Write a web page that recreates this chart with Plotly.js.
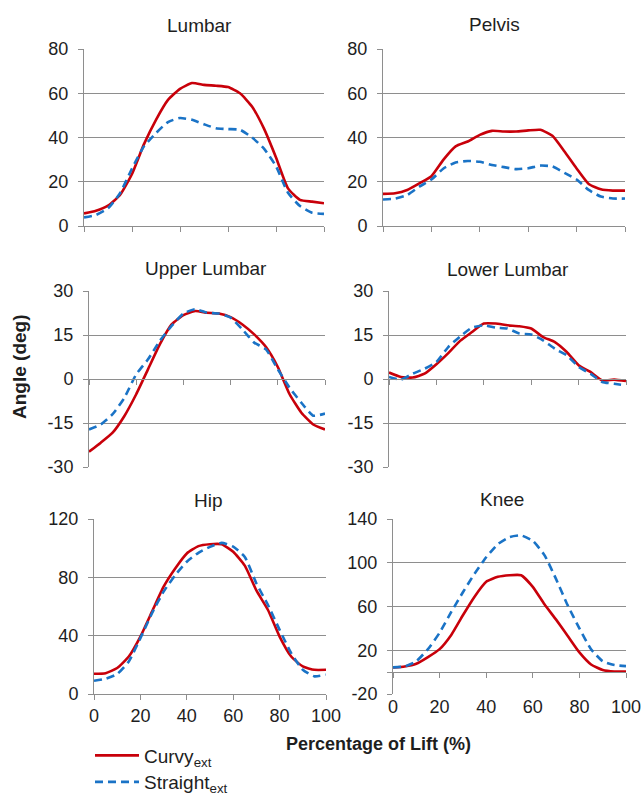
<!DOCTYPE html>
<html>
<head>
<meta charset="utf-8">
<script src="https://cdn.plot.ly/plotly-3.0.1.min.js"></script>
<style>html,body{margin:0;padding:0;background:#fff;}#chart{width:641px;height:795px;}</style>
</head>
<body>
<div id="chart"></div>
<script>
// ---- data ----
const pct = [0,5,10,15,20,25,30,35,40,45,50,55,60,65,70,75,80,85,90,95,100];
const xTicks = [0,20,40,60,80,100];
const seriesNames = ['Curvy<sub>ext</sub>', 'Straight<sub>ext</sub>'];
const panelTitles = ['Lumbar','Pelvis','Upper Lumbar','Lower Lumbar','Hip','Knee'];

const lumbarCurvy    = [5.7,6.9,9.2,14,23.5,37,48,57,62,64.6,63.8,63.4,62.8,60,54,44,31,17,11.8,11,10.3];
const lumbarStraight = [3.9,5,8,14.8,26,36,42,47,48.8,48,46,44.2,43.8,43.5,40,35,27,15,9,6,5.5];

const pelvisCurvy    = [14.5,14.8,16.3,19.3,22.5,30,36,38.2,41.2,43,42.7,42.7,43.2,43.5,40.8,33.7,26,19,16.6,16,16];
const pelvisStraight = [12,12.4,14,17.8,21,26,28.7,29.4,29,27.6,26.6,25.7,26.1,27.3,26.9,24,21,16.3,13.3,12.4,12.4];

const upperCurvy    = [-24.8,-21.7,-18.3,-12.6,-5.2,3.3,11.8,18.6,21.8,23.2,22.6,22.3,21.1,18.6,15.2,10.9,4.1,-5.2,-11.5,-15.5,-17.2];
const upperStraight = [-17.2,-15.5,-12,-6.4,1.6,6.7,13,18.1,22.3,23.8,22.6,22.3,20.9,16.9,12.4,10.1,3.3,-3,-8.1,-12.5,-11.8];

const lowerCurvy    = [2.2,0.7,0.5,1.8,5,8.8,13,16,18.9,18.9,18.3,18,17.2,14.3,12.6,9.2,4.7,2.4,-0.5,-0.2,-0.7];
const lowerStraight = [0.7,-0.2,1.8,3.5,5.8,10.9,14.5,17.5,18.3,17.5,17.2,15.5,15.2,13.2,10.3,8.1,4.1,1.8,-1,-1.6,-2.2];

const hipCurvy    = [13.9,14.3,17.8,25.7,39.4,56.5,73.6,86.1,96.4,101.4,102.7,102.7,97.5,88,71,57.6,39.4,25.7,18.9,16.6,16.6];
const hipStraight = [9.1,10.5,13.7,22.3,38.3,55.4,70.2,81.5,90.7,96.8,100.9,103.6,101,94,75.8,61,44,28,16.6,12.1,13.2];

const kneeCurvy    = [4.3,5.2,7.6,13.7,21,34,52,69,82.6,87.1,88.6,88.6,78,62,48,33,18,7,2,0.6,0.6];
const kneeStraight = [4.3,5.2,10,21,36,55,73,90,105,117,123.5,125,120,107,85,61,40,21,10,6.5,5.5];

// the knee panel also carries an unlabelled line at 0 (its x-axis line)
const yTickVals = [[0,20,40,60,80],[0,20,40,60,80],[-30,-15,0,15,30],[-30,-15,0,15,30],[0,40,80,120],[-20,0,20,60,100,140]];
const yTickText = [['0','20','40','60','80'],['0','20','40','60','80'],['-30','-15','0','15','30'],['-30','-15','0','15','30'],['0','40','80','120'],['-20','','20','60','100','140']];
const yRanges = [[0,80],[0,80],[-30,30],[-30,30],[0,120],[-20,140]];

// ---- layout geometry (pixels) ----
const W = 641, H = 795;
const boxes = [
  {l:84,  r:324, t:49,  b:226},
  {l:383, r:625, t:49,  b:226},
  {l:89,  r:325, t:291, b:467},
  {l:389, r:626, t:291, b:467},
  {l:94,  r:326, t:519, b:694},
  {l:393, r:626, t:519, b:694}
];
const titlePos = [[199,26],[494,25],[206,269],[508,270],[208,500],[502,499]];

const RED = '#c8000a', BLUE = '#1a73c6', GRID = '#8e8e8e', TXT = '#1e1e1e';
const FONT = 'Liberation Sans, Arial, sans-serif';

const curvy = [lumbarCurvy, pelvisCurvy, upperCurvy, lowerCurvy, hipCurvy, kneeCurvy];
const straight = [lumbarStraight, pelvisStraight, upperStraight, lowerStraight, hipStraight, kneeStraight];

const traces = [];
const layout = {
  width: W, height: H, autosize: false,
  margin: {l:0, r:0, t:0, b:0, pad:0, autoexpand:false},
  paper_bgcolor: '#fff', plot_bgcolor: 'rgba(0,0,0,0)',
  font: {family: FONT, size: 18, color: TXT},
  showlegend: true,
  annotations: [],
  legend: {x: 90/W, y: 1-755.5/H, xanchor:'left', yanchor:'middle', itemwidth: 44, font:{size:19, family:FONT, color:TXT}, bgcolor:'rgba(0,0,0,0)'},
  legend2: {x: 90/W, y: 1-782/H, xanchor:'left', yanchor:'middle', itemwidth: 44, font:{size:19, family:FONT, color:TXT}, bgcolor:'rgba(0,0,0,0)'}
};

function px2x(p){ return p / W; }
function py2y(p){ return 1 - p / H; }

const tickTraces = [];
let extra = 7;
for (let i = 0; i < 6; i++) {
  const n = i + 1;
  const b = boxes[i];
  const xa = 'x' + (n === 1 ? '' : n), ya = 'y' + (n === 1 ? '' : n);
  const xKey = 'xaxis' + (n === 1 ? '' : n), yKey = 'yaxis' + (n === 1 ? '' : n);
  const xDom = [px2x(b.l), px2x(b.r)];
  const yDom = [py2y(b.b), py2y(b.t)];
  const yr = yRanges[i];
  const atBottom = yr[0] === 0;
  const showLabels = (i >= 4);

  layout[xKey] = {
    domain: xDom, anchor: ya,
    range: [0, 100], fixedrange: true,
    tickvals: xTicks,
    ticks: atBottom ? 'outside' : '', ticklen: 5, tickwidth: 1, tickcolor: GRID,
    showline: atBottom, linecolor: GRID, linewidth: 1,
    showgrid: false, zeroline: false,
    showticklabels: showLabels, ticklabeloverflow: 'allow',
    tickfont: {size: 18, family: FONT, color: TXT}
  };

  layout[yKey] = {
    domain: yDom, anchor: xa,
    range: yr, fixedrange: true,
    tickvals: yTickVals[i], ticktext: yTickText[i],
    ticks: 'outside', ticklen: 5, tickwidth: 1, tickcolor: GRID,
    showline: true, linecolor: GRID, linewidth: 1,
    showgrid: true, gridcolor: GRID, gridwidth: 1,
    zeroline: false,
    tickfont: {size: 18, family: FONT, color: TXT},
    ticklabelstandoff: 6
  };

  if (!atBottom) {
    // extra axis pair whose bottom edge sits on the zero level of this panel (x axis ticks on zero)
    const zeroFrac = yDom[0] + (0 - yr[0]) / (yr[1] - yr[0]) * (yDom[1] - yDom[0]);
    const k = extra++;
    layout['xaxis' + k] = {
      domain: xDom, anchor: 'y' + k, range: [0, 100],
      tickvals: xTicks, ticks: 'outside', ticklen: 5, tickwidth: 1, tickcolor: GRID,
      showline: true, linecolor: GRID, linewidth: 1,
      showgrid: false, zeroline: false, showticklabels: false
    };
    layout['yaxis' + k] = {
      domain: [zeroFrac, yDom[1]], anchor: 'x' + k, range: [0, 1], visible: false
    };
    tickTraces.push({x: [null], y: [null], xaxis: 'x' + k, yaxis: 'y' + k, showlegend: false});
  }

  traces.push({
    x: pct, y: curvy[i], xaxis: xa, yaxis: ya, type: 'scatter', mode: 'lines',
    name: seriesNames[0], legend: 'legend', showlegend: i === 0,
    line: {color: RED, width: 2.6, shape: 'spline', smoothing: 0.5},
    hoverinfo: 'skip'
  });
  traces.push({
    x: pct, y: straight[i], xaxis: xa, yaxis: ya, type: 'scatter', mode: 'lines',
    name: seriesNames[1], legend: 'legend2', showlegend: i === 0,
    line: {color: BLUE, width: 2.6, dash: '8px,5px', shape: 'spline', smoothing: 0.5},
    hoverinfo: 'skip'
  });

  layout.annotations.push({
    text: panelTitles[i], xref: 'paper', yref: 'paper',
    x: px2x(titlePos[i][0]), y: py2y(titlePos[i][1]),
    xanchor: 'center', yanchor: 'middle', showarrow: false,
    font: {size: 19, family: FONT, color: TXT}
  });
}

layout.annotations.push({
  text: '<b>Angle (deg)</b>', xref: 'paper', yref: 'paper',
  x: px2x(19), y: py2y(367), textangle: -90,
  xanchor: 'center', yanchor: 'middle', showarrow: false,
  font: {size: 19, family: FONT, color: TXT}
});
layout.annotations.push({
  text: '<b>Percentage of Lift (%)</b>', xref: 'paper', yref: 'paper',
  x: px2x(378), y: py2y(744),
  xanchor: 'center', yanchor: 'middle', showarrow: false,
  font: {size: 18, family: FONT, color: TXT}
});

Plotly.newPlot('chart', tickTraces.concat(traces), layout, {staticPlot: true, displayModeBar: false});
</script>
</body>
</html>
